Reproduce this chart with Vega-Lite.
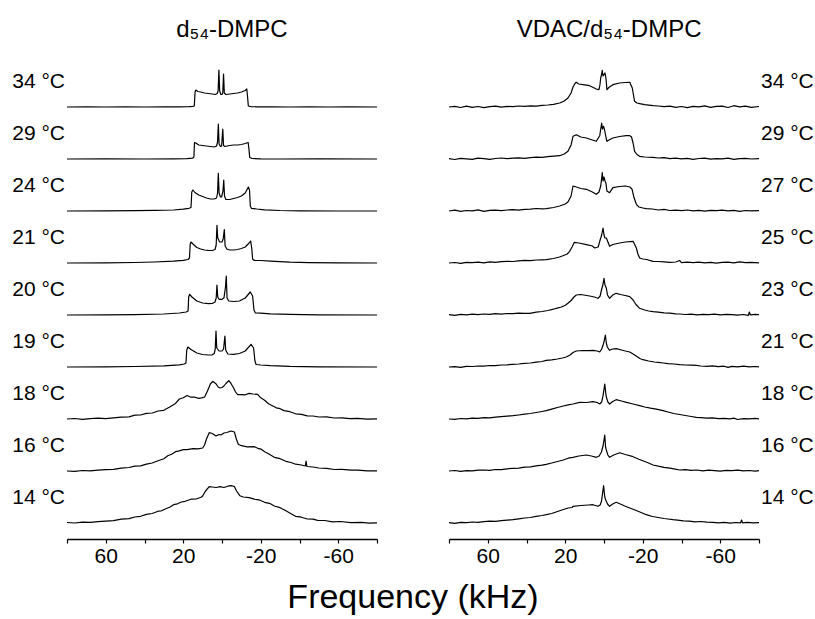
{
"$schema":"https://vega.github.io/schema/vega-lite/v6.json",
"background":"white",
"padding":{"left":12,"top":18,"right":0,"bottom":0},
"config":{"font":"Liberation Sans","view":{"stroke":null},"concat":{"spacing":70}},
"title":{"text":"Frequency (kHz)","orient":"bottom","anchor":"middle","fontSize":34,"fontWeight":"normal","offset":15,"color":"black","font":"Liberation Sans"},
"datasets":{
"L":[
{"t":"34 °C","f":80,"v":0},{"t":"34 °C","f":70,"v":0.1},{"t":"34 °C","f":60,"v":0},{"t":"34 °C","f":50,"v":0.1},{"t":"34 °C","f":40,"v":0},{"t":"34 °C","f":30,"v":0.1},{"t":"34 °C","f":22,"v":0.2},{"t":"34 °C","f":17,"v":0.4},{"t":"34 °C","f":15,"v":0.6},{"t":"34 °C","f":14.3,"v":1},{"t":"34 °C","f":13.9,"v":15},{"t":"34 °C","f":13.5,"v":17},{"t":"34 °C","f":12.5,"v":15.5},{"t":"34 °C","f":11,"v":15},{"t":"34 °C","f":9,"v":14},{"t":"34 °C","f":7,"v":13.5},{"t":"34 °C","f":5,"v":13},{"t":"34 °C","f":3.5,"v":12.5},{"t":"34 °C","f":2.5,"v":13.5},{"t":"34 °C","f":2,"v":16},{"t":"34 °C","f":1.6,"v":37},{"t":"34 °C","f":1.2,"v":16},{"t":"34 °C","f":0.6,"v":12.5},{"t":"34 °C","f":0,"v":12.5},{"t":"34 °C","f":-0.4,"v":14},{"t":"34 °C","f":-0.8,"v":33},{"t":"34 °C","f":-1.2,"v":14},{"t":"34 °C","f":-2,"v":12.5},{"t":"34 °C","f":-4,"v":13},{"t":"34 °C","f":-6,"v":13.5},{"t":"34 °C","f":-8,"v":14},{"t":"34 °C","f":-10,"v":15},{"t":"34 °C","f":-12,"v":16.5},{"t":"34 °C","f":-12.8,"v":18},{"t":"34 °C","f":-13.2,"v":10},{"t":"34 °C","f":-13.6,"v":1},{"t":"34 °C","f":-15,"v":0.4},{"t":"34 °C","f":-18,"v":0.2},{"t":"34 °C","f":-25,"v":0.1},{"t":"34 °C","f":-35,"v":0},{"t":"34 °C","f":-45,"v":0.1},{"t":"34 °C","f":-55,"v":0},{"t":"34 °C","f":-65,"v":0.1},{"t":"34 °C","f":-80,"v":0},
{"t":"29 °C","f":80,"v":0},{"t":"29 °C","f":60,"v":0.1},{"t":"29 °C","f":40,"v":0},{"t":"29 °C","f":25,"v":0.2},{"t":"29 °C","f":18,"v":0.4},{"t":"29 °C","f":15.2,"v":0.8},{"t":"29 °C","f":14.5,"v":2},{"t":"29 °C","f":14.2,"v":16.5},{"t":"29 °C","f":13.5,"v":16},{"t":"29 °C","f":12,"v":14},{"t":"29 °C","f":10,"v":13.5},{"t":"29 °C","f":8,"v":13},{"t":"29 °C","f":6,"v":12.5},{"t":"29 °C","f":4,"v":12},{"t":"29 °C","f":2.8,"v":13},{"t":"29 °C","f":2.3,"v":17},{"t":"29 °C","f":1.9,"v":35},{"t":"29 °C","f":1.5,"v":15},{"t":"29 °C","f":0.8,"v":12.5},{"t":"29 °C","f":0.2,"v":13},{"t":"29 °C","f":-0.4,"v":30},{"t":"29 °C","f":-0.8,"v":13.5},{"t":"29 °C","f":-1.5,"v":12.5},{"t":"29 °C","f":-4,"v":13.5},{"t":"29 °C","f":-6,"v":14},{"t":"29 °C","f":-8,"v":14},{"t":"29 °C","f":-10,"v":14.5},{"t":"29 °C","f":-12,"v":15.5},{"t":"29 °C","f":-13.5,"v":16.5},{"t":"29 °C","f":-13.9,"v":10},{"t":"29 °C","f":-14.3,"v":1.5},{"t":"29 °C","f":-15.5,"v":0.5},{"t":"29 °C","f":-20,"v":0.2},{"t":"29 °C","f":-30,"v":0},{"t":"29 °C","f":-50,"v":0.1},{"t":"29 °C","f":-80,"v":0},
{"t":"24 °C","f":80,"v":0},{"t":"24 °C","f":60,"v":0.2},{"t":"24 °C","f":45,"v":0.3},{"t":"24 °C","f":35,"v":0.6},{"t":"24 °C","f":25,"v":1},{"t":"24 °C","f":20,"v":1.8},{"t":"24 °C","f":17,"v":2.7},{"t":"24 °C","f":16,"v":3.5},{"t":"24 °C","f":15.6,"v":19},{"t":"24 °C","f":15,"v":21},{"t":"24 °C","f":14,"v":18.5},{"t":"24 °C","f":12,"v":16},{"t":"24 °C","f":10,"v":14.5},{"t":"24 °C","f":8,"v":13},{"t":"24 °C","f":6,"v":12},{"t":"24 °C","f":4,"v":12},{"t":"24 °C","f":2.8,"v":13},{"t":"24 °C","f":2.3,"v":18},{"t":"24 °C","f":1.9,"v":37.7},{"t":"24 °C","f":1.5,"v":18},{"t":"24 °C","f":0.8,"v":14},{"t":"24 °C","f":0.2,"v":14},{"t":"24 °C","f":-0.5,"v":20},{"t":"24 °C","f":-0.9,"v":31},{"t":"24 °C","f":-1.3,"v":15},{"t":"24 °C","f":-2,"v":11.5},{"t":"24 °C","f":-4,"v":11.5},{"t":"24 °C","f":-6,"v":12.5},{"t":"24 °C","f":-8,"v":13.5},{"t":"24 °C","f":-10,"v":15},{"t":"24 °C","f":-12,"v":18},{"t":"24 °C","f":-13.6,"v":24},{"t":"24 °C","f":-14.2,"v":21},{"t":"24 °C","f":-14.6,"v":5},{"t":"24 °C","f":-15.2,"v":2.7},{"t":"24 °C","f":-18,"v":2},{"t":"24 °C","f":-22,"v":1.2},{"t":"24 °C","f":-30,"v":0.5},{"t":"24 °C","f":-40,"v":0.2},{"t":"24 °C","f":-60,"v":0},{"t":"24 °C","f":-80,"v":0},
{"t":"21 °C","f":80,"v":0},{"t":"21 °C","f":60,"v":0.2},{"t":"21 °C","f":45,"v":0.5},{"t":"21 °C","f":35,"v":1},{"t":"21 °C","f":25,"v":1.8},{"t":"21 °C","f":20,"v":2.7},{"t":"21 °C","f":17.5,"v":3.5},{"t":"21 °C","f":16.8,"v":5},{"t":"21 °C","f":16.4,"v":19},{"t":"21 °C","f":16,"v":21},{"t":"21 °C","f":15,"v":19},{"t":"21 °C","f":13,"v":15.5},{"t":"21 °C","f":11,"v":14},{"t":"21 °C","f":9,"v":13},{"t":"21 °C","f":7,"v":12.7},{"t":"21 °C","f":5,"v":12.5},{"t":"21 °C","f":3.6,"v":13.5},{"t":"21 °C","f":3,"v":18},{"t":"21 °C","f":2.6,"v":37.7},{"t":"21 °C","f":2.2,"v":25},{"t":"21 °C","f":1.2,"v":21},{"t":"21 °C","f":0,"v":21},{"t":"21 °C","f":-0.6,"v":24},{"t":"21 °C","f":-1.2,"v":33.4},{"t":"21 °C","f":-1.6,"v":17},{"t":"21 °C","f":-2.5,"v":14},{"t":"21 °C","f":-4,"v":13},{"t":"21 °C","f":-6,"v":13},{"t":"21 °C","f":-8,"v":13.5},{"t":"21 °C","f":-10,"v":14.5},{"t":"21 °C","f":-12,"v":16},{"t":"21 °C","f":-14,"v":20},{"t":"21 °C","f":-14.8,"v":22},{"t":"21 °C","f":-15.4,"v":14},{"t":"21 °C","f":-15.8,"v":4},{"t":"21 °C","f":-16.5,"v":2.7},{"t":"21 °C","f":-20,"v":2.5},{"t":"21 °C","f":-25,"v":1.8},{"t":"21 °C","f":-35,"v":0.8},{"t":"21 °C","f":-45,"v":0.3},{"t":"21 °C","f":-60,"v":0.1},{"t":"21 °C","f":-80,"v":0},
{"t":"20 °C","f":80,"v":0},{"t":"20 °C","f":60,"v":0.2},{"t":"20 °C","f":45,"v":0.4},{"t":"20 °C","f":30,"v":1},{"t":"20 °C","f":22,"v":2},{"t":"20 °C","f":18.5,"v":3},{"t":"20 °C","f":17.5,"v":4},{"t":"20 °C","f":17.2,"v":18},{"t":"20 °C","f":16.7,"v":20.7},{"t":"20 °C","f":15.5,"v":18},{"t":"20 °C","f":13,"v":14},{"t":"20 °C","f":10,"v":12},{"t":"20 °C","f":7,"v":11.3},{"t":"20 °C","f":5,"v":11.5},{"t":"20 °C","f":3.6,"v":13},{"t":"20 °C","f":3,"v":17},{"t":"20 °C","f":2.6,"v":30},{"t":"20 °C","f":2.2,"v":18},{"t":"20 °C","f":1.5,"v":15.7},{"t":"20 °C","f":0,"v":15.7},{"t":"20 °C","f":-1,"v":17},{"t":"20 °C","f":-1.8,"v":28},{"t":"20 °C","f":-2.2,"v":39},{"t":"20 °C","f":-2.6,"v":17},{"t":"20 °C","f":-3.5,"v":14},{"t":"20 °C","f":-6,"v":13.5},{"t":"20 °C","f":-9,"v":14},{"t":"20 °C","f":-12,"v":17},{"t":"20 °C","f":-14.6,"v":23},{"t":"20 °C","f":-15.8,"v":19},{"t":"20 °C","f":-16.5,"v":5},{"t":"20 °C","f":-17.2,"v":2.2},{"t":"20 °C","f":-20,"v":1.8},{"t":"20 °C","f":-25,"v":1.2},{"t":"20 °C","f":-35,"v":0.6},{"t":"20 °C","f":-50,"v":0.2},{"t":"20 °C","f":-80,"v":0},
{"t":"19 °C","f":80,"v":0},{"t":"19 °C","f":60,"v":0.2},{"t":"19 °C","f":45,"v":0.5},{"t":"19 °C","f":30,"v":1.2},{"t":"19 °C","f":22,"v":2.2},{"t":"19 °C","f":19.5,"v":3},{"t":"19 °C","f":18.6,"v":4},{"t":"19 °C","f":18.2,"v":17},{"t":"19 °C","f":17.6,"v":20},{"t":"19 °C","f":16,"v":17.5},{"t":"19 °C","f":13,"v":14},{"t":"19 °C","f":10,"v":12.5},{"t":"19 °C","f":7,"v":12},{"t":"19 °C","f":5,"v":12.2},{"t":"19 °C","f":4,"v":13.5},{"t":"19 °C","f":3.5,"v":18},{"t":"19 °C","f":3.1,"v":36},{"t":"19 °C","f":2.7,"v":19},{"t":"19 °C","f":1.5,"v":16},{"t":"19 °C","f":0,"v":16},{"t":"19 °C","f":-0.8,"v":18},{"t":"19 °C","f":-1.5,"v":31},{"t":"19 °C","f":-1.9,"v":17},{"t":"19 °C","f":-3,"v":13},{"t":"19 °C","f":-6,"v":12.7},{"t":"19 °C","f":-9,"v":13.5},{"t":"19 °C","f":-12,"v":16},{"t":"19 °C","f":-15,"v":22.7},{"t":"19 °C","f":-16.3,"v":19},{"t":"19 °C","f":-17,"v":6},{"t":"19 °C","f":-17.6,"v":2.5},{"t":"19 °C","f":-20,"v":2},{"t":"19 °C","f":-25,"v":1.3},{"t":"19 °C","f":-35,"v":0.6},{"t":"19 °C","f":-50,"v":0.2},{"t":"19 °C","f":-80,"v":0},
{"t":"18 °C","f":80,"v":0},{"t":"18 °C","f":76,"v":0.5},{"t":"18 °C","f":72,"v":-0.3},{"t":"18 °C","f":68,"v":0.4},{"t":"18 °C","f":64,"v":0.8},{"t":"18 °C","f":60,"v":0.3},{"t":"18 °C","f":56,"v":1.2},{"t":"18 °C","f":52,"v":1.8},{"t":"18 °C","f":48,"v":2.2},{"t":"18 °C","f":45,"v":3.8},{"t":"18 °C","f":42,"v":4},{"t":"18 °C","f":39,"v":5.6},{"t":"18 °C","f":36,"v":6},{"t":"18 °C","f":33,"v":8},{"t":"18 °C","f":30,"v":8.7},{"t":"18 °C","f":27,"v":12},{"t":"18 °C","f":24,"v":15.6},{"t":"18 °C","f":22,"v":20},{"t":"18 °C","f":20,"v":21.2},{"t":"18 °C","f":18,"v":23.5},{"t":"18 °C","f":16,"v":21.8},{"t":"18 °C","f":14,"v":21.8},{"t":"18 °C","f":12,"v":20.6},{"t":"18 °C","f":10.5,"v":21.2},{"t":"18 °C","f":9,"v":22},{"t":"18 °C","f":7.5,"v":28},{"t":"18 °C","f":6,"v":35},{"t":"18 °C","f":4.8,"v":37.7},{"t":"18 °C","f":4,"v":36.5},{"t":"18 °C","f":3,"v":35},{"t":"18 °C","f":2,"v":32},{"t":"18 °C","f":1,"v":31},{"t":"18 °C","f":0,"v":31.5},{"t":"18 °C","f":-1,"v":33},{"t":"18 °C","f":-2,"v":35.5},{"t":"18 °C","f":-3.5,"v":38.3},{"t":"18 °C","f":-4.5,"v":36},{"t":"18 °C","f":-6,"v":31},{"t":"18 °C","f":-7,"v":27},{"t":"18 °C","f":-8.1,"v":24.3},{"t":"18 °C","f":-10,"v":24.4},{"t":"18 °C","f":-12,"v":24.2},{"t":"18 °C","f":-14,"v":25.6},{"t":"18 °C","f":-16,"v":25},{"t":"18 °C","f":-18.4,"v":24.6},{"t":"18 °C","f":-20,"v":21.2},{"t":"18 °C","f":-22,"v":18.8},{"t":"18 °C","f":-24,"v":15.2},{"t":"18 °C","f":-26,"v":13.3},{"t":"18 °C","f":-28,"v":11.2},{"t":"18 °C","f":-30,"v":10.3},{"t":"18 °C","f":-32,"v":8.4},{"t":"18 °C","f":-35,"v":7.3},{"t":"18 °C","f":-38,"v":5.2},{"t":"18 °C","f":-41,"v":4.6},{"t":"18 °C","f":-44,"v":3.2},{"t":"18 °C","f":-47,"v":3},{"t":"18 °C","f":-50,"v":2},{"t":"18 °C","f":-54,"v":2.1},{"t":"18 °C","f":-58,"v":1},{"t":"18 °C","f":-62,"v":1.2},{"t":"18 °C","f":-66,"v":0.3},{"t":"18 °C","f":-70,"v":0.7},{"t":"18 °C","f":-75,"v":-0.1},{"t":"18 °C","f":-80,"v":0.2},
{"t":"16 °C","f":80,"v":0},{"t":"16 °C","f":76,"v":-0.4},{"t":"16 °C","f":72,"v":0.5},{"t":"16 °C","f":68,"v":0.2},{"t":"16 °C","f":64,"v":0.9},{"t":"16 °C","f":60,"v":1.3},{"t":"16 °C","f":56,"v":1.6},{"t":"16 °C","f":52,"v":2.8},{"t":"16 °C","f":48,"v":3.5},{"t":"16 °C","f":45,"v":4.8},{"t":"16 °C","f":42,"v":5.2},{"t":"16 °C","f":39,"v":6.8},{"t":"16 °C","f":36,"v":8},{"t":"16 °C","f":33,"v":10.3},{"t":"16 °C","f":30,"v":12.2},{"t":"16 °C","f":28,"v":15.3},{"t":"16 °C","f":26,"v":16.7},{"t":"16 °C","f":24,"v":19.3},{"t":"16 °C","f":22,"v":20.2},{"t":"16 °C","f":20,"v":21.3},{"t":"16 °C","f":18,"v":21.4},{"t":"16 °C","f":15,"v":22.3},{"t":"16 °C","f":12.5,"v":22.2},{"t":"16 °C","f":10,"v":23},{"t":"16 °C","f":9,"v":26},{"t":"16 °C","f":8,"v":32},{"t":"16 °C","f":6.6,"v":38.3},{"t":"16 °C","f":5,"v":37.5},{"t":"16 °C","f":3.1,"v":35},{"t":"16 °C","f":1.5,"v":36.5},{"t":"16 °C","f":0.5,"v":36},{"t":"16 °C","f":-1,"v":38},{"t":"16 °C","f":-2.5,"v":38.5},{"t":"16 °C","f":-4.6,"v":40},{"t":"16 °C","f":-6.4,"v":39},{"t":"16 °C","f":-7.4,"v":32},{"t":"16 °C","f":-8.4,"v":26.7},{"t":"16 °C","f":-10,"v":25.3},{"t":"16 °C","f":-13,"v":24.2},{"t":"16 °C","f":-16.7,"v":24.3},{"t":"16 °C","f":-18.5,"v":22.7},{"t":"16 °C","f":-20.1,"v":21.9},{"t":"16 °C","f":-22,"v":19.2},{"t":"16 °C","f":-24,"v":17.3},{"t":"16 °C","f":-27,"v":13.7},{"t":"16 °C","f":-30,"v":12.3},{"t":"16 °C","f":-33,"v":9.7},{"t":"16 °C","f":-35.6,"v":8.5},{"t":"16 °C","f":-38,"v":6.8},{"t":"16 °C","f":-41,"v":6},{"t":"16 °C","f":-43,"v":5},{"t":"16 °C","f":-43.4,"v":10},{"t":"16 °C","f":-43.8,"v":4.5},{"t":"16 °C","f":-47,"v":4},{"t":"16 °C","f":-50,"v":3},{"t":"16 °C","f":-54,"v":2.6},{"t":"16 °C","f":-58,"v":1.5},{"t":"16 °C","f":-62,"v":1.7},{"t":"16 °C","f":-66.6,"v":0.8},{"t":"16 °C","f":-70,"v":0.8},{"t":"16 °C","f":-75,"v":0.1},{"t":"16 °C","f":-80,"v":0.2},
{"t":"14 °C","f":80,"v":0.5},{"t":"14 °C","f":76,"v":0},{"t":"14 °C","f":72,"v":0.8},{"t":"14 °C","f":68,"v":0.6},{"t":"14 °C","f":64,"v":1.3},{"t":"14 °C","f":60,"v":1.8},{"t":"14 °C","f":56,"v":2.4},{"t":"14 °C","f":52,"v":3.8},{"t":"14 °C","f":48,"v":4.3},{"t":"14 °C","f":45,"v":6},{"t":"14 °C","f":42,"v":6.7},{"t":"14 °C","f":39,"v":8.6},{"t":"14 °C","f":36,"v":9.5},{"t":"14 °C","f":33,"v":11.8},{"t":"14 °C","f":31.5,"v":12},{"t":"14 °C","f":29,"v":14.3},{"t":"14 °C","f":27,"v":15.7},{"t":"14 °C","f":25,"v":18.3},{"t":"14 °C","f":23,"v":19.2},{"t":"14 °C","f":21,"v":21},{"t":"14 °C","f":19,"v":21.7},{"t":"14 °C","f":16,"v":23.8},{"t":"14 °C","f":13,"v":24.2},{"t":"14 °C","f":10.8,"v":25.7},{"t":"14 °C","f":10,"v":27},{"t":"14 °C","f":8.5,"v":32},{"t":"14 °C","f":6.6,"v":36.3},{"t":"14 °C","f":5,"v":36},{"t":"14 °C","f":3,"v":35.5},{"t":"14 °C","f":1,"v":36.3},{"t":"14 °C","f":-1,"v":35.5},{"t":"14 °C","f":-3,"v":36.8},{"t":"14 °C","f":-4.6,"v":37.3},{"t":"14 °C","f":-6.4,"v":36.5},{"t":"14 °C","f":-7.5,"v":32},{"t":"14 °C","f":-9.2,"v":27.3},{"t":"14 °C","f":-11,"v":26},{"t":"14 °C","f":-14,"v":25.3},{"t":"14 °C","f":-16.7,"v":23.8},{"t":"14 °C","f":-19,"v":23.2},{"t":"14 °C","f":-22,"v":20.7},{"t":"14 °C","f":-25,"v":19.3},{"t":"14 °C","f":-27,"v":17},{"t":"14 °C","f":-30,"v":15.3},{"t":"14 °C","f":-33,"v":12.2},{"t":"14 °C","f":-35.6,"v":9.3},{"t":"14 °C","f":-38,"v":6.7},{"t":"14 °C","f":-41,"v":5.8},{"t":"14 °C","f":-44,"v":4},{"t":"14 °C","f":-47,"v":3.8},{"t":"14 °C","f":-49.4,"v":2.7},{"t":"14 °C","f":-53,"v":2.5},{"t":"14 °C","f":-57,"v":1.2},{"t":"14 °C","f":-61,"v":1.5},{"t":"14 °C","f":-66.6,"v":0.4},{"t":"14 °C","f":-72,"v":0.7},{"t":"14 °C","f":-76,"v":-0.1},{"t":"14 °C","f":-80,"v":0.1}
],
"R":[
{"t":"34 °C","f":80,"v":0},{"t":"34 °C","f":77,"v":0.6},{"t":"34 °C","f":74,"v":-0.5},{"t":"34 °C","f":71,"v":0.8},{"t":"34 °C","f":68,"v":-0.3},{"t":"34 °C","f":65,"v":0.5},{"t":"34 °C","f":62,"v":-0.7},{"t":"34 °C","f":59,"v":0.4},{"t":"34 °C","f":56,"v":0.9},{"t":"34 °C","f":53,"v":-0.2},{"t":"34 °C","f":50,"v":0.6},{"t":"34 °C","f":47,"v":0.3},{"t":"34 °C","f":44,"v":1},{"t":"34 °C","f":41,"v":0.6},{"t":"34 °C","f":38,"v":1.2},{"t":"34 °C","f":35,"v":0.9},{"t":"34 °C","f":32,"v":1.6},{"t":"34 °C","f":29,"v":2},{"t":"34 °C","f":26,"v":2.7},{"t":"34 °C","f":22.9,"v":4},{"t":"34 °C","f":20.5,"v":6},{"t":"34 °C","f":18.6,"v":9},{"t":"34 °C","f":17,"v":14},{"t":"34 °C","f":16,"v":20},{"t":"34 °C","f":15,"v":23.5},{"t":"34 °C","f":14.3,"v":24.7},{"t":"34 °C","f":13,"v":23},{"t":"34 °C","f":10.8,"v":22.3},{"t":"34 °C","f":7.4,"v":21.3},{"t":"34 °C","f":5,"v":19},{"t":"34 °C","f":4,"v":18},{"t":"34 °C","f":2.6,"v":17.3},{"t":"34 °C","f":2.1,"v":22},{"t":"34 °C","f":1.7,"v":29},{"t":"34 °C","f":1.2,"v":33},{"t":"34 °C","f":0.9,"v":36.7},{"t":"34 °C","f":0.5,"v":31},{"t":"34 °C","f":0,"v":32.3},{"t":"34 °C","f":-0.5,"v":34},{"t":"34 °C","f":-0.9,"v":30},{"t":"34 °C","f":-1.2,"v":25},{"t":"34 °C","f":-1.5,"v":17.3},{"t":"34 °C","f":-2.5,"v":19.5},{"t":"34 °C","f":-4.6,"v":22.3},{"t":"34 °C","f":-8.1,"v":24},{"t":"34 °C","f":-11,"v":24.5},{"t":"34 °C","f":-13.3,"v":24.7},{"t":"34 °C","f":-14.6,"v":19},{"t":"34 °C","f":-15.2,"v":12},{"t":"34 °C","f":-15.8,"v":5.7},{"t":"34 °C","f":-17,"v":4},{"t":"34 °C","f":-18.4,"v":3.3},{"t":"34 °C","f":-21,"v":2.3},{"t":"34 °C","f":-25.3,"v":1.3},{"t":"34 °C","f":-28,"v":1},{"t":"34 °C","f":-31,"v":0.4},{"t":"34 °C","f":-34,"v":0.8},{"t":"34 °C","f":-37,"v":-0.3},{"t":"34 °C","f":-40,"v":0.5},{"t":"34 °C","f":-43,"v":-0.6},{"t":"34 °C","f":-46,"v":0.7},{"t":"34 °C","f":-49,"v":0.2},{"t":"34 °C","f":-52,"v":1.2},{"t":"34 °C","f":-55,"v":-0.4},{"t":"34 °C","f":-58,"v":0.6},{"t":"34 °C","f":-61,"v":0.9},{"t":"34 °C","f":-64,"v":-0.5},{"t":"34 °C","f":-67,"v":1.3},{"t":"34 °C","f":-70,"v":0.2},{"t":"34 °C","f":-73,"v":0.8},{"t":"34 °C","f":-76,"v":-0.3},{"t":"34 °C","f":-80,"v":0.5},
{"t":"29 °C","f":80,"v":0.3},{"t":"29 °C","f":77,"v":-0.5},{"t":"29 °C","f":74,"v":0.6},{"t":"29 °C","f":71,"v":0.2},{"t":"29 °C","f":68,"v":-0.4},{"t":"29 °C","f":65,"v":0.9},{"t":"29 °C","f":62,"v":0.3},{"t":"29 °C","f":59,"v":-0.3},{"t":"29 °C","f":56,"v":0.5},{"t":"29 °C","f":53,"v":1},{"t":"29 °C","f":50,"v":0.4},{"t":"29 °C","f":47,"v":0.8},{"t":"29 °C","f":44,"v":1.2},{"t":"29 °C","f":41,"v":0.7},{"t":"29 °C","f":38,"v":1.4},{"t":"29 °C","f":35,"v":1.8},{"t":"29 °C","f":32,"v":1.6},{"t":"29 °C","f":29,"v":2.3},{"t":"29 °C","f":26,"v":2.8},{"t":"29 °C","f":22.9,"v":3.3},{"t":"29 °C","f":20.5,"v":5},{"t":"29 °C","f":18.6,"v":7.7},{"t":"29 °C","f":17,"v":14},{"t":"29 °C","f":16,"v":22.7},{"t":"29 °C","f":14.3,"v":24.3},{"t":"29 °C","f":12,"v":22},{"t":"29 °C","f":9.1,"v":21},{"t":"29 °C","f":6,"v":19},{"t":"29 °C","f":4,"v":17.7},{"t":"29 °C","f":2.2,"v":23.3},{"t":"29 °C","f":1.2,"v":36},{"t":"29 °C","f":0.8,"v":30},{"t":"29 °C","f":0.2,"v":32.7},{"t":"29 °C","f":-0.4,"v":28},{"t":"29 °C","f":-1.2,"v":20},{"t":"29 °C","f":-1.5,"v":17.7},{"t":"29 °C","f":-3,"v":19.5},{"t":"29 °C","f":-4.6,"v":21},{"t":"29 °C","f":-8,"v":22.5},{"t":"29 °C","f":-11.5,"v":23.3},{"t":"29 °C","f":-13.3,"v":23.3},{"t":"29 °C","f":-14.2,"v":22},{"t":"29 °C","f":-15,"v":16},{"t":"29 °C","f":-15.8,"v":7.7},{"t":"29 °C","f":-17,"v":4.5},{"t":"29 °C","f":-18.4,"v":2.7},{"t":"29 °C","f":-21,"v":2},{"t":"29 °C","f":-25.3,"v":1.7},{"t":"29 °C","f":-28,"v":1},{"t":"29 °C","f":-31,"v":1.3},{"t":"29 °C","f":-34,"v":0.4},{"t":"29 °C","f":-37,"v":0.9},{"t":"29 °C","f":-40,"v":0.2},{"t":"29 °C","f":-43,"v":0.7},{"t":"29 °C","f":-46,"v":-0.3},{"t":"29 °C","f":-49,"v":0.5},{"t":"29 °C","f":-52,"v":0.8},{"t":"29 °C","f":-55,"v":-0.2},{"t":"29 °C","f":-58,"v":0.4},{"t":"29 °C","f":-61,"v":0.1},{"t":"29 °C","f":-64,"v":0.9},{"t":"29 °C","f":-67,"v":-0.4},{"t":"29 °C","f":-70,"v":0.3},{"t":"29 °C","f":-73,"v":0.6},{"t":"29 °C","f":-76,"v":0},{"t":"29 °C","f":-80,"v":0.4},
{"t":"27 °C","f":80,"v":0},{"t":"27 °C","f":77,"v":0.8},{"t":"27 °C","f":74,"v":-0.3},{"t":"27 °C","f":71,"v":0.5},{"t":"27 °C","f":68,"v":0.2},{"t":"27 °C","f":65,"v":1.2},{"t":"27 °C","f":62,"v":-0.4},{"t":"27 °C","f":59,"v":0.6},{"t":"27 °C","f":56,"v":0.9},{"t":"27 °C","f":53,"v":0.3},{"t":"27 °C","f":50,"v":1},{"t":"27 °C","f":47,"v":1.3},{"t":"27 °C","f":44,"v":0.9},{"t":"27 °C","f":41,"v":1.6},{"t":"27 °C","f":38,"v":1.9},{"t":"27 °C","f":35,"v":2.5},{"t":"27 °C","f":32,"v":2.2},{"t":"27 °C","f":29.8,"v":2.3},{"t":"27 °C","f":26,"v":3.5},{"t":"27 °C","f":22.9,"v":5},{"t":"27 °C","f":20,"v":7},{"t":"27 °C","f":18.6,"v":9},{"t":"27 °C","f":17,"v":15},{"t":"27 °C","f":16,"v":25},{"t":"27 °C","f":14.3,"v":24},{"t":"27 °C","f":12,"v":22.5},{"t":"27 °C","f":9.1,"v":21.7},{"t":"27 °C","f":6,"v":19},{"t":"27 °C","f":4,"v":16.7},{"t":"27 °C","f":2.6,"v":19},{"t":"27 °C","f":1.7,"v":25},{"t":"27 °C","f":1.2,"v":33},{"t":"27 °C","f":0.9,"v":38.3},{"t":"27 °C","f":0.5,"v":30},{"t":"27 °C","f":0,"v":34},{"t":"27 °C","f":-0.5,"v":30},{"t":"27 °C","f":-1,"v":28},{"t":"27 °C","f":-1.5,"v":20},{"t":"27 °C","f":-2.9,"v":18.3},{"t":"27 °C","f":-4.6,"v":23.3},{"t":"27 °C","f":-8,"v":24.5},{"t":"27 °C","f":-11,"v":25},{"t":"27 °C","f":-13.3,"v":24},{"t":"27 °C","f":-14.5,"v":21.7},{"t":"27 °C","f":-15.4,"v":14},{"t":"27 °C","f":-16.7,"v":6.7},{"t":"27 °C","f":-18,"v":4},{"t":"27 °C","f":-20.1,"v":3},{"t":"27 °C","f":-21.8,"v":2.3},{"t":"27 °C","f":-25,"v":2},{"t":"27 °C","f":-28,"v":1},{"t":"27 °C","f":-31,"v":1.6},{"t":"27 °C","f":-34,"v":0.5},{"t":"27 °C","f":-37,"v":0.9},{"t":"27 °C","f":-40,"v":0.3},{"t":"27 °C","f":-43,"v":1},{"t":"27 °C","f":-46,"v":0.1},{"t":"27 °C","f":-49,"v":0.6},{"t":"27 °C","f":-52,"v":-0.2},{"t":"27 °C","f":-55,"v":0.7},{"t":"27 °C","f":-58,"v":0.4},{"t":"27 °C","f":-61,"v":0.9},{"t":"27 °C","f":-64,"v":0.1},{"t":"27 °C","f":-67,"v":0.6},{"t":"27 °C","f":-70,"v":-0.3},{"t":"27 °C","f":-73,"v":0.5},{"t":"27 °C","f":-76,"v":0.2},{"t":"27 °C","f":-80,"v":0.3},
{"t":"25 °C","f":80,"v":0},{"t":"25 °C","f":77,"v":0.5},{"t":"25 °C","f":74,"v":-0.4},{"t":"25 °C","f":71,"v":0.7},{"t":"25 °C","f":68,"v":0.3},{"t":"25 °C","f":65,"v":0.9},{"t":"25 °C","f":62,"v":0.2},{"t":"25 °C","f":59,"v":1.1},{"t":"25 °C","f":56,"v":0.6},{"t":"25 °C","f":53,"v":1.3},{"t":"25 °C","f":50,"v":1.7},{"t":"25 °C","f":47,"v":1.5},{"t":"25 °C","f":44,"v":2.2},{"t":"25 °C","f":41,"v":2.6},{"t":"25 °C","f":38,"v":2.4},{"t":"25 °C","f":35,"v":3},{"t":"25 °C","f":32,"v":3.2},{"t":"25 °C","f":29.8,"v":3.3},{"t":"25 °C","f":26,"v":4.5},{"t":"25 °C","f":23,"v":6},{"t":"25 °C","f":21.2,"v":7.3},{"t":"25 °C","f":19,"v":9},{"t":"25 °C","f":17.7,"v":11.7},{"t":"25 °C","f":16.5,"v":16},{"t":"25 °C","f":15.3,"v":20.7},{"t":"25 °C","f":13,"v":20},{"t":"25 °C","f":9.1,"v":18.3},{"t":"25 °C","f":6,"v":17},{"t":"25 °C","f":4.8,"v":15},{"t":"25 °C","f":3,"v":16},{"t":"25 °C","f":2.2,"v":21.7},{"t":"25 °C","f":1.2,"v":28},{"t":"25 °C","f":0.5,"v":35},{"t":"25 °C","f":0,"v":28},{"t":"25 °C","f":-0.5,"v":25},{"t":"25 °C","f":-1.2,"v":25},{"t":"25 °C","f":-2.9,"v":16.7},{"t":"25 °C","f":-4.6,"v":18.5},{"t":"25 °C","f":-8.1,"v":20},{"t":"25 °C","f":-11,"v":21},{"t":"25 °C","f":-15,"v":21.7},{"t":"25 °C","f":-16.7,"v":15},{"t":"25 °C","f":-17.5,"v":9},{"t":"25 °C","f":-18.4,"v":5},{"t":"25 °C","f":-20,"v":4},{"t":"25 °C","f":-22,"v":3.5},{"t":"25 °C","f":-25.3,"v":1.7},{"t":"25 °C","f":-28,"v":1.5},{"t":"25 °C","f":-31,"v":1.2},{"t":"25 °C","f":-34,"v":0.6},{"t":"25 °C","f":-37,"v":1},{"t":"25 °C","f":-39,"v":2.5},{"t":"25 °C","f":-40,"v":0.4},{"t":"25 °C","f":-43,"v":0.8},{"t":"25 °C","f":-46,"v":0.3},{"t":"25 °C","f":-49,"v":0.9},{"t":"25 °C","f":-52,"v":0.2},{"t":"25 °C","f":-55,"v":0.7},{"t":"25 °C","f":-58,"v":-0.2},{"t":"25 °C","f":-61,"v":0.6},{"t":"25 °C","f":-64,"v":0.8},{"t":"25 °C","f":-67,"v":0.1},{"t":"25 °C","f":-70,"v":1.2},{"t":"25 °C","f":-73,"v":0.4},{"t":"25 °C","f":-76,"v":0.6},{"t":"25 °C","f":-80,"v":0.2},
{"t":"23 °C","f":80,"v":0.3},{"t":"23 °C","f":77,"v":-0.4},{"t":"23 °C","f":74,"v":0.6},{"t":"23 °C","f":71,"v":0.1},{"t":"23 °C","f":68,"v":0.8},{"t":"23 °C","f":65,"v":0.4},{"t":"23 °C","f":62,"v":1},{"t":"23 °C","f":59,"v":0.6},{"t":"23 °C","f":56,"v":1.3},{"t":"23 °C","f":53,"v":0.9},{"t":"23 °C","f":50,"v":1.5},{"t":"23 °C","f":47,"v":1.3},{"t":"23 °C","f":44,"v":1.9},{"t":"23 °C","f":41,"v":1.6},{"t":"23 °C","f":38.3,"v":1.7},{"t":"23 °C","f":35,"v":2.8},{"t":"23 °C","f":32,"v":3.5},{"t":"23 °C","f":29,"v":4.5},{"t":"23 °C","f":26,"v":5.8},{"t":"23 °C","f":24.6,"v":6.7},{"t":"23 °C","f":22,"v":8},{"t":"23 °C","f":20,"v":9.8},{"t":"23 °C","f":18.6,"v":11.7},{"t":"23 °C","f":17,"v":14.5},{"t":"23 °C","f":15.5,"v":18},{"t":"23 °C","f":14.3,"v":20},{"t":"23 °C","f":12,"v":20.5},{"t":"23 °C","f":9,"v":19.5},{"t":"23 °C","f":7.4,"v":19},{"t":"23 °C","f":5,"v":18},{"t":"23 °C","f":3.1,"v":16.7},{"t":"23 °C","f":2,"v":19},{"t":"23 °C","f":1.3,"v":25},{"t":"23 °C","f":0.6,"v":30},{"t":"23 °C","f":0,"v":36.7},{"t":"23 °C","f":-0.5,"v":30},{"t":"23 °C","f":-1.2,"v":27},{"t":"23 °C","f":-1.8,"v":20},{"t":"23 °C","f":-2.9,"v":16.7},{"t":"23 °C","f":-4.5,"v":20},{"t":"23 °C","f":-6.3,"v":21.7},{"t":"23 °C","f":-8.5,"v":20.5},{"t":"23 °C","f":-11,"v":19.5},{"t":"23 °C","f":-13.3,"v":18.3},{"t":"23 °C","f":-15,"v":15},{"t":"23 °C","f":-16.5,"v":10.5},{"t":"23 °C","f":-18.4,"v":6.7},{"t":"23 °C","f":-21,"v":5},{"t":"23 °C","f":-23,"v":4},{"t":"23 °C","f":-25.3,"v":3.3},{"t":"23 °C","f":-28,"v":2.8},{"t":"23 °C","f":-31,"v":2.2},{"t":"23 °C","f":-34,"v":1.8},{"t":"23 °C","f":-37,"v":1.2},{"t":"23 °C","f":-39.1,"v":1},{"t":"23 °C","f":-42,"v":0.5},{"t":"23 °C","f":-45,"v":0.8},{"t":"23 °C","f":-48,"v":0.2},{"t":"23 °C","f":-51,"v":0.7},{"t":"23 °C","f":-54,"v":0.3},{"t":"23 °C","f":-57,"v":0.9},{"t":"23 °C","f":-60,"v":0.1},{"t":"23 °C","f":-63,"v":0.6},{"t":"23 °C","f":-66,"v":0.4},{"t":"23 °C","f":-69,"v":-0.2},{"t":"23 °C","f":-72,"v":0.5},{"t":"23 °C","f":-74.5,"v":-0.4},{"t":"23 °C","f":-75,"v":3},{"t":"23 °C","f":-75.5,"v":0.2},{"t":"23 °C","f":-78,"v":0.6},{"t":"23 °C","f":-80,"v":0.3},
{"t":"21 °C","f":80,"v":0},{"t":"21 °C","f":77,"v":0.4},{"t":"21 °C","f":74,"v":-0.3},{"t":"21 °C","f":71,"v":0.6},{"t":"21 °C","f":68,"v":0.5},{"t":"21 °C","f":65,"v":1},{"t":"21 °C","f":62,"v":0.8},{"t":"21 °C","f":59,"v":1.5},{"t":"21 °C","f":56,"v":1.3},{"t":"21 °C","f":53,"v":2},{"t":"21 °C","f":50,"v":2.2},{"t":"21 °C","f":47,"v":2.7},{"t":"21 °C","f":44,"v":3},{"t":"21 °C","f":41,"v":3.6},{"t":"21 °C","f":38,"v":4},{"t":"21 °C","f":35,"v":4.8},{"t":"21 °C","f":32,"v":5.5},{"t":"21 °C","f":29.8,"v":6.7},{"t":"21 °C","f":27,"v":7.2},{"t":"21 °C","f":24,"v":8},{"t":"21 °C","f":21.5,"v":9},{"t":"21 °C","f":19.5,"v":10},{"t":"21 °C","f":17.5,"v":12},{"t":"21 °C","f":16,"v":14.5},{"t":"21 °C","f":14.3,"v":16},{"t":"21 °C","f":11,"v":16.5},{"t":"21 °C","f":8,"v":16.3},{"t":"21 °C","f":5.7,"v":16.7},{"t":"21 °C","f":3.5,"v":16},{"t":"21 °C","f":2.2,"v":15},{"t":"21 °C","f":1.2,"v":18},{"t":"21 °C","f":0.5,"v":21.7},{"t":"21 °C","f":-0.2,"v":27},{"t":"21 °C","f":-0.7,"v":32},{"t":"21 °C","f":-1.2,"v":24},{"t":"21 °C","f":-1.7,"v":20},{"t":"21 °C","f":-2.9,"v":16.7},{"t":"21 °C","f":-4.5,"v":18},{"t":"21 °C","f":-6.3,"v":18.3},{"t":"21 °C","f":-9,"v":17},{"t":"21 °C","f":-11,"v":16},{"t":"21 °C","f":-13.3,"v":15},{"t":"21 °C","f":-15,"v":13},{"t":"21 °C","f":-17,"v":10.5},{"t":"21 °C","f":-18.5,"v":8.5},{"t":"21 °C","f":-20.1,"v":7.3},{"t":"21 °C","f":-23,"v":6},{"t":"21 °C","f":-26,"v":5},{"t":"21 °C","f":-28,"v":4.6},{"t":"21 °C","f":-30.5,"v":4},{"t":"21 °C","f":-33,"v":3.4},{"t":"21 °C","f":-36,"v":3},{"t":"21 °C","f":-39,"v":2.4},{"t":"21 °C","f":-42,"v":2},{"t":"21 °C","f":-45,"v":1.8},{"t":"21 °C","f":-47.7,"v":1.7},{"t":"21 °C","f":-50,"v":1},{"t":"21 °C","f":-53,"v":0.7},{"t":"21 °C","f":-56,"v":1.2},{"t":"21 °C","f":-59,"v":0.3},{"t":"21 °C","f":-62,"v":0.8},{"t":"21 °C","f":-64,"v":-0.4},{"t":"21 °C","f":-66,"v":0.6},{"t":"21 °C","f":-69,"v":0.2},{"t":"21 °C","f":-72,"v":0.8},{"t":"21 °C","f":-75,"v":0.1},{"t":"21 °C","f":-78,"v":0.5},{"t":"21 °C","f":-80,"v":0.2},
{"t":"18 °C","f":80,"v":0},{"t":"18 °C","f":77,"v":-0.4},{"t":"18 °C","f":74,"v":0.5},{"t":"18 °C","f":71,"v":0.2},{"t":"18 °C","f":68,"v":0.9},{"t":"18 °C","f":65,"v":0.6},{"t":"18 °C","f":62,"v":1.3},{"t":"18 °C","f":59,"v":1.2},{"t":"18 °C","f":56,"v":1.9},{"t":"18 °C","f":53,"v":2.4},{"t":"18 °C","f":50,"v":2.8},{"t":"18 °C","f":47,"v":3.3},{"t":"18 °C","f":44,"v":4},{"t":"18 °C","f":41,"v":4.8},{"t":"18 °C","f":38,"v":5.5},{"t":"18 °C","f":35,"v":6.5},{"t":"18 °C","f":32,"v":7.5},{"t":"18 °C","f":29.8,"v":8.3},{"t":"18 °C","f":27,"v":9.8},{"t":"18 °C","f":24,"v":11.5},{"t":"18 °C","f":21,"v":13},{"t":"18 °C","f":18.5,"v":14.2},{"t":"18 °C","f":16,"v":15},{"t":"18 °C","f":12.5,"v":16.7},{"t":"18 °C","f":9,"v":16.5},{"t":"18 °C","f":5.7,"v":17.3},{"t":"18 °C","f":3.5,"v":16.5},{"t":"18 °C","f":2.2,"v":15},{"t":"18 °C","f":1.2,"v":17},{"t":"18 °C","f":0.5,"v":23.3},{"t":"18 °C","f":-0.4,"v":35},{"t":"18 °C","f":-0.9,"v":26},{"t":"18 °C","f":-1.2,"v":22},{"t":"18 °C","f":-2,"v":17},{"t":"18 °C","f":-2.9,"v":15},{"t":"18 °C","f":-4.5,"v":17.5},{"t":"18 °C","f":-6.3,"v":19.3},{"t":"18 °C","f":-9,"v":18},{"t":"18 °C","f":-11.5,"v":16.7},{"t":"18 °C","f":-14,"v":15.5},{"t":"18 °C","f":-16,"v":14.5},{"t":"18 °C","f":-18.4,"v":13.3},{"t":"18 °C","f":-21,"v":12},{"t":"18 °C","f":-24,"v":10.8},{"t":"18 °C","f":-27,"v":9.8},{"t":"18 °C","f":-30.5,"v":8.3},{"t":"18 °C","f":-33,"v":7},{"t":"18 °C","f":-36,"v":5.5},{"t":"18 °C","f":-39,"v":4.5},{"t":"18 °C","f":-42,"v":3.5},{"t":"18 °C","f":-45,"v":2.5},{"t":"18 °C","f":-47.7,"v":1.7},{"t":"18 °C","f":-50,"v":1.3},{"t":"18 °C","f":-53,"v":0.8},{"t":"18 °C","f":-56,"v":1.1},{"t":"18 °C","f":-59,"v":0.3},{"t":"18 °C","f":-62,"v":0.7},{"t":"18 °C","f":-65,"v":0.1},{"t":"18 °C","f":-67,"v":0.9},{"t":"18 °C","f":-69,"v":-0.5},{"t":"18 °C","f":-72,"v":0.4},{"t":"18 °C","f":-75,"v":0.2},{"t":"18 °C","f":-78,"v":0.6},{"t":"18 °C","f":-80,"v":0.1},
{"t":"16 °C","f":80,"v":0},{"t":"16 °C","f":77,"v":0.5},{"t":"16 °C","f":74,"v":-0.3},{"t":"16 °C","f":71,"v":0.4},{"t":"16 °C","f":68,"v":0.1},{"t":"16 °C","f":65,"v":0.8},{"t":"16 °C","f":62,"v":1},{"t":"16 °C","f":59,"v":0.6},{"t":"16 °C","f":56,"v":1.5},{"t":"16 °C","f":53,"v":1.3},{"t":"16 °C","f":50,"v":2.2},{"t":"16 °C","f":47,"v":2.7},{"t":"16 °C","f":44,"v":2.9},{"t":"16 °C","f":41,"v":3.8},{"t":"16 °C","f":38,"v":4.2},{"t":"16 °C","f":35,"v":5.2},{"t":"16 °C","f":32,"v":5.8},{"t":"16 °C","f":29.8,"v":6.7},{"t":"16 °C","f":27,"v":8},{"t":"16 °C","f":24,"v":9.5},{"t":"16 °C","f":21,"v":11},{"t":"16 °C","f":18.5,"v":12.8},{"t":"16 °C","f":16,"v":13.7},{"t":"16 °C","f":13,"v":15},{"t":"16 °C","f":11,"v":15.5},{"t":"16 °C","f":9.1,"v":16},{"t":"16 °C","f":6.5,"v":15},{"t":"16 °C","f":4,"v":13.7},{"t":"16 °C","f":2.5,"v":15},{"t":"16 °C","f":1.3,"v":19},{"t":"16 °C","f":0.4,"v":26},{"t":"16 °C","f":-0.4,"v":36},{"t":"16 °C","f":-0.8,"v":24},{"t":"16 °C","f":-1.2,"v":21},{"t":"16 °C","f":-2,"v":16},{"t":"16 °C","f":-2.9,"v":13.7},{"t":"16 °C","f":-5,"v":16},{"t":"16 °C","f":-8.1,"v":18.3},{"t":"16 °C","f":-11,"v":16.5},{"t":"16 °C","f":-15,"v":14.3},{"t":"16 °C","f":-18,"v":11.8},{"t":"16 °C","f":-21,"v":9.5},{"t":"16 °C","f":-23,"v":8},{"t":"16 °C","f":-25.3,"v":6},{"t":"16 °C","f":-28,"v":4.8},{"t":"16 °C","f":-31,"v":3.7},{"t":"16 °C","f":-34,"v":2.8},{"t":"16 °C","f":-36,"v":2.1},{"t":"16 °C","f":-39.1,"v":1},{"t":"16 °C","f":-42,"v":1.4},{"t":"16 °C","f":-45,"v":0.6},{"t":"16 °C","f":-48,"v":1},{"t":"16 °C","f":-51,"v":0.2},{"t":"16 °C","f":-54,"v":0.8},{"t":"16 °C","f":-57,"v":0.4},{"t":"16 °C","f":-60,"v":-0.2},{"t":"16 °C","f":-63,"v":0.6},{"t":"16 °C","f":-66,"v":0.3},{"t":"16 °C","f":-69,"v":0.9},{"t":"16 °C","f":-72,"v":0.2},{"t":"16 °C","f":-75,"v":0.5},{"t":"16 °C","f":-78,"v":-0.2},{"t":"16 °C","f":-80,"v":0.3},
{"t":"14 °C","f":80,"v":0.4},{"t":"14 °C","f":77,"v":-0.3},{"t":"14 °C","f":74,"v":0.6},{"t":"14 °C","f":71,"v":0.3},{"t":"14 °C","f":68,"v":1},{"t":"14 °C","f":65,"v":0.7},{"t":"14 °C","f":62,"v":1.4},{"t":"14 °C","f":59,"v":1.8},{"t":"14 °C","f":56,"v":1.6},{"t":"14 °C","f":53,"v":2.4},{"t":"14 °C","f":50,"v":2.9},{"t":"14 °C","f":47,"v":3.3},{"t":"14 °C","f":44,"v":4.2},{"t":"14 °C","f":41,"v":5},{"t":"14 °C","f":38,"v":5.5},{"t":"14 °C","f":35,"v":6.6},{"t":"14 °C","f":32,"v":7.5},{"t":"14 °C","f":29.8,"v":8.3},{"t":"14 °C","f":27,"v":9.5},{"t":"14 °C","f":24,"v":11.5},{"t":"14 °C","f":21,"v":13.5},{"t":"14 °C","f":18.5,"v":15},{"t":"14 °C","f":16.5,"v":15.5},{"t":"14 °C","f":16,"v":16.7},{"t":"14 °C","f":12,"v":17.5},{"t":"14 °C","f":8,"v":18},{"t":"14 °C","f":5.7,"v":18.3},{"t":"14 °C","f":3.1,"v":16.7},{"t":"14 °C","f":2,"v":18},{"t":"14 °C","f":1.3,"v":21.7},{"t":"14 °C","f":0.2,"v":37.3},{"t":"14 °C","f":-0.4,"v":26},{"t":"14 °C","f":-0.9,"v":23},{"t":"14 °C","f":-1.8,"v":19},{"t":"14 °C","f":-2.9,"v":16.7},{"t":"14 °C","f":-4.5,"v":19},{"t":"14 °C","f":-6.3,"v":20.7},{"t":"14 °C","f":-9,"v":18.5},{"t":"14 °C","f":-11,"v":16.8},{"t":"14 °C","f":-13.3,"v":15},{"t":"14 °C","f":-16,"v":13},{"t":"14 °C","f":-18.5,"v":11},{"t":"14 °C","f":-21.8,"v":8.3},{"t":"14 °C","f":-25,"v":6.5},{"t":"14 °C","f":-28,"v":5.5},{"t":"14 °C","f":-31,"v":4.5},{"t":"14 °C","f":-33,"v":4},{"t":"14 °C","f":-35.6,"v":3.3},{"t":"14 °C","f":-38,"v":2.8},{"t":"14 °C","f":-41,"v":2.2},{"t":"14 °C","f":-44,"v":1.8},{"t":"14 °C","f":-47,"v":1.2},{"t":"14 °C","f":-50,"v":1.5},{"t":"14 °C","f":-53,"v":0.8},{"t":"14 °C","f":-56.3,"v":0.7},{"t":"14 °C","f":-59,"v":0.2},{"t":"14 °C","f":-62,"v":0.6},{"t":"14 °C","f":-65,"v":-0.2},{"t":"14 °C","f":-68,"v":0.5},{"t":"14 °C","f":-70.5,"v":0.2},{"t":"14 °C","f":-71,"v":3},{"t":"14 °C","f":-71.5,"v":0.1},{"t":"14 °C","f":-74,"v":0.6},{"t":"14 °C","f":-77,"v":0.2},{"t":"14 °C","f":-80,"v":0.4}
]
},
"hconcat":[
{
"data":{"name":"L"},
"title":{"text":"d₅₄-DMPC","fontSize":24,"fontWeight":"normal","anchor":"middle","offset":14,"dx":37,"color":"black","font":"Liberation Sans"},
"spacing":0,
"bounds":"flush",
"facet":{"row":{"field":"t","type":"ordinal","sort":"descending","title":null,"header":{"labelOrient":"left","labelAngle":0,"labelAlign":"left","labelBaseline":"middle","labelFontSize":21,"labelPadding":2,"labelColor":"black","labelFont":"Liberation Sans"}}},
"spec":{
"width":310,"height":52,
"mark":{"type":"line","color":"black","strokeWidth":1.2,"strokeJoin":"round"},
"encoding":{
"x":{"field":"f","type":"quantitative","scale":{"domain":[-80,80],"reverse":true,"nice":false,"zero":false},"axis":{"values":[80,60,40,20,0,-20,-40,-60,-80],"labelExpr":"abs(datum.value) % 40 == 20 ? '' + datum.value : ''","title":null,"grid":false,"domainColor":"black","domainWidth":1.5,"tickColor":"black","tickWidth":1.2,"tickSize":4,"labelFontSize":21,"labelColor":"black","labelPadding":2,"offset":15,"labelFont":"Liberation Sans"}},
"y":{"field":"v","type":"quantitative","scale":{"domain":[-1,51],"nice":false,"zero":false},"axis":null}
}
}
},
{
"data":{"name":"R"},
"title":{"text":"VDAC/d₅₄-DMPC","fontSize":24,"fontWeight":"normal","anchor":"middle","offset":14,"dx":-22,"color":"black","font":"Liberation Sans"},
"spacing":0,
"bounds":"flush",
"facet":{"row":{"field":"t","type":"ordinal","sort":"descending","title":null,"header":{"labelOrient":"right","labelAngle":0,"labelAlign":"right","labelBaseline":"middle","labelFontSize":21,"labelPadding":2,"labelColor":"black","labelFont":"Liberation Sans"}}},
"spec":{
"width":310,"height":52,
"mark":{"type":"line","color":"black","strokeWidth":1.2,"strokeJoin":"round"},
"encoding":{
"x":{"field":"f","type":"quantitative","scale":{"domain":[-80,80],"reverse":true,"nice":false,"zero":false},"axis":{"values":[80,60,40,20,0,-20,-40,-60,-80],"labelExpr":"abs(datum.value) % 40 == 20 ? '' + datum.value : ''","title":null,"grid":false,"domainColor":"black","domainWidth":1.5,"tickColor":"black","tickWidth":1.2,"tickSize":4,"labelFontSize":21,"labelColor":"black","labelPadding":2,"offset":15,"labelFont":"Liberation Sans"}},
"y":{"field":"v","type":"quantitative","scale":{"domain":[-1,51],"nice":false,"zero":false},"axis":null}
}
}
}
]
}
